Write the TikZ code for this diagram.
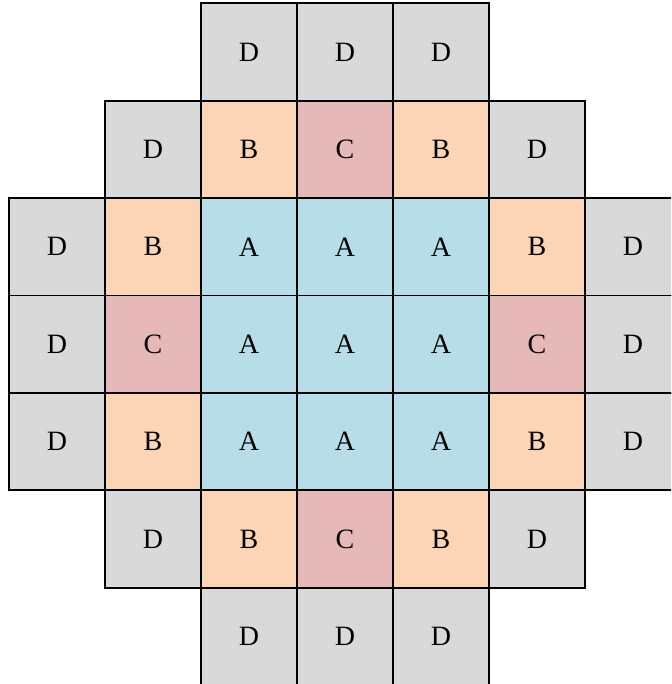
\documentclass[tikz,border=0pt]{standalone}
\usepackage{fontspec}
\setmainfont{Liberation Serif}
\usepackage{tikz}

\definecolor{cellD}{HTML}{D9D9D9}
\definecolor{cellB}{HTML}{FBD5B5}
\definecolor{cellC}{HTML}{E6B8B7}
\definecolor{cellA}{HTML}{B7DEE8}

\tikzset{
    cell/.style={draw=black, line width=1.7pt, rectangle, inner sep=0pt,
        minimum width=96pt, minimum height=97.4pt,
        font=\fontsize{28}{28}\selectfont},
    cellA/.style={cell, fill=cellA},
    cellB/.style={cell, fill=cellB},
    cellC/.style={cell, fill=cellC},
    cellD/.style={cell, fill=cellD}
}

\begin{document}
\begin{tikzpicture}[x=1pt, y=1pt]
    \useasboundingbox (0,0) rectangle (671,684);
    \clip (0,0) rectangle (671,684);
    % rows from top, each entry: column/letter
    \foreach \r/\cells in {
        0/{2/D,3/D,4/D},
        1/{1/D,2/B,3/C,4/B,5/D},
        2/{0/D,1/B,2/A,3/A,4/A,5/B,6/D},
        3/{0/D,1/C,2/A,3/A,4/A,5/C,6/D},
        4/{0/D,1/B,2/A,3/A,4/A,5/B,6/D},
        5/{1/D,2/B,3/C,4/B,5/D},
        6/{2/D,3/D,4/D}} {
        \foreach \c/\l in \cells {
            \node[cell\l] (r\r c\c) at ({57+96*\c}, {632-97.4*\r}) {\l};
        }
    }
\end{tikzpicture}
\end{document}
